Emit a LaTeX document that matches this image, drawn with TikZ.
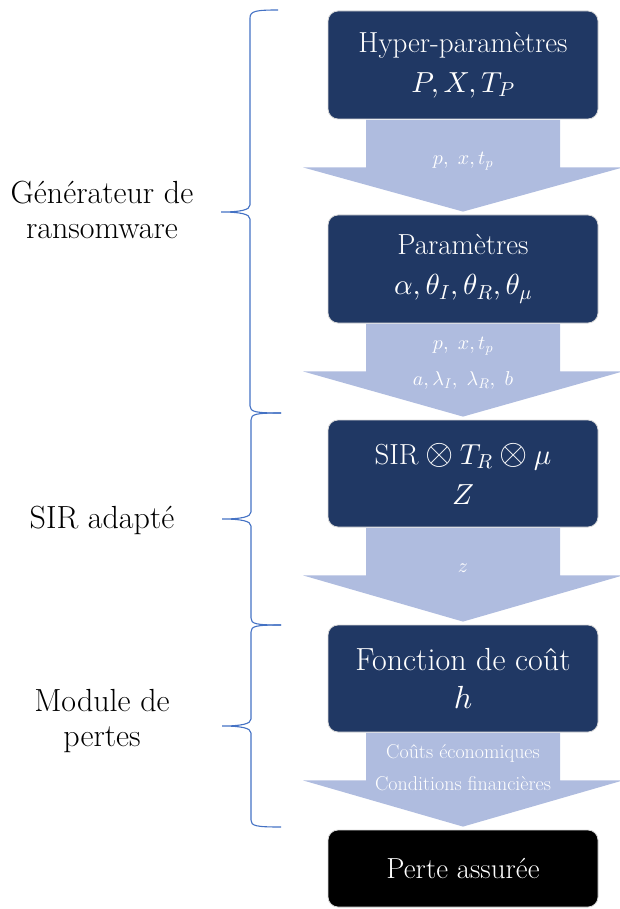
\documentclass[tikz,border=0pt]{standalone}
\usepackage{fontspec}
\usepackage{graphicx}
\usetikzlibrary{calc}
\DeclareFontShape{OML}{cmm}{m}{it}{<->cmmi10}{}
\DeclareFontShape{OML}{cmm}{b}{it}{<->cmmib10}{}
\DeclareFontShape{OMS}{cmsy}{m}{n}{<->cmsy10}{}
\DeclareFontShape{OMX}{cmex}{m}{n}{<->cmex10}{}
\definecolor{navy}{HTML}{203864}
\definecolor{arrowblue}{HTML}{AFBCDF}
\definecolor{bracecol}{HTML}{4472C4}
\definecolor{rim}{HTML}{D9D9D9}
\tikzset{
  box/.style={rectangle, rounded corners=10pt, fill=navy, draw=rim, line width=0.8pt,
    minimum width=270pt, minimum height=108pt, text=white, align=center,
    font=\fontsize{29}{40}\selectfont, inner sep=0pt},
  endbox/.style={box, fill=black, minimum height=77pt},
  flow/.style={fill=arrowblue},
  flowlabel/.style={text=white, align=center, font=\fontsize{20}{36}\selectfont, inner sep=0pt},
  bracepath/.style={draw=bracecol, line width=1.1pt},
  sidelabel/.style={align=center, font=\fontsize{32}{35}\selectfont, inner sep=0pt}
}
\newcommand\flowarrow[2]{%
  \fill[flow] ($(#1.south)+(-97,0.5)$) -- ($(#1.south)+(97,0.5)$)
    -- ($(#1.south)+(97,48)$) -- ($(#1.south)+(160,48)$)
    -- ($(#2.north)+(0,-3)$)
    -- ($(#1.south)+(-160,48)$) -- ($(#1.south)+(-97,48)$) -- cycle;}
\newcommand\otx{\mathbin{\scalebox{1.25}{$\otimes$}}}
\begin{document}
\begin{tikzpicture}[x=1pt,y=-1pt]
\useasboundingbox (0,0) rectangle (620,909);

% boxes
\node[box] (b1) at (463,65) {Hyper-paramètres\\$P, X, T_P$};
\node[box] (b2) at (463,269) {Paramètres\\$\alpha, \theta_I, \theta_R, \theta_\mu$};
\node[box, minimum height=107pt] (b3) at (463,473.5) {$\mathrm{SIR} \otx T_R \otx \mu$\\$Z$};
\node[box, minimum height=107pt, font=\fontsize{32}{38}\selectfont] (b4) at (463,678.5) {Fonction de coût\\$h$};
\node[endbox] (b5) at (463,868.5) {Perte assurée};

% arrows
\flowarrow{b1}{b2}
\flowarrow{b2}{b3}
\flowarrow{b3}{b4}
\flowarrow{b4}{b5}

% arrow labels
\node[flowlabel] (l1) at (463,161) {$p,\ x, t_p$};
\node[flowlabel] (l2) at (463,363) {$p,\ x, t_p$\\$a, \lambda_I,\ \lambda_R,\ b$};
\node[flowlabel] (l3) at (463,568) {$z$};
\node[flowlabel, font=\fontsize{20}{32}\selectfont] (l4) at (463,768) {Coûts économiques\\Conditions financières};

% braces
\draw[bracepath] (278,10) .. controls (256,10) and (250,11) .. (250,18)
  -- (250,205) .. controls (250,210) and (240,212) .. (221,212)
  .. controls (240,212) and (250,214) .. (250,219)
  -- (250,406) .. controls (250,412) and (256,413) .. (281,413);
\draw[bracepath] (281,413) .. controls (256,413) and (251,414) .. (251,420)
  -- (251,512) .. controls (251,517) and (241,519) .. (222,519)
  .. controls (241,519) and (251,521) .. (251,526)
  -- (251,618) .. controls (251,624) and (256,625) .. (281,625);
\draw[bracepath] (281,625) .. controls (256,625) and (251,626) .. (251,632)
  -- (251,719) .. controls (251,724) and (241,726) .. (222,726)
  .. controls (241,726) and (251,728) .. (251,733)
  -- (251,820) .. controls (251,826) and (256,827) .. (281,827);

% side labels
\node[sidelabel] (s1) at (102,210) {Générateur de\\ransomware};
\node[sidelabel] (s2) at (102,520) {SIR adapté};
\node[sidelabel] (s3) at (102,721) {Module de\\pertes};
\end{tikzpicture}
\end{document}
